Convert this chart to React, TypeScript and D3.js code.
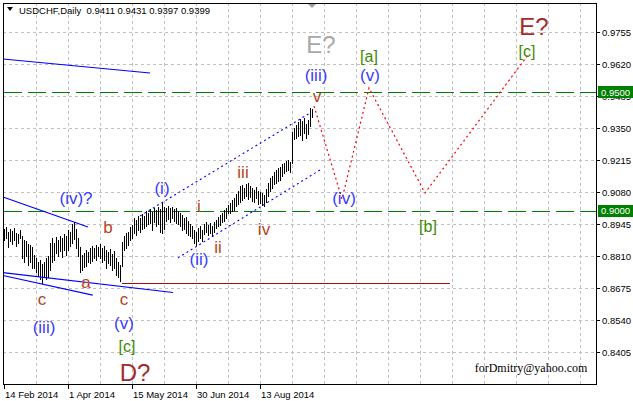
import * as d3 from 'd3';

// header of the MT4 window
const symbolName = 'USDCHF,Daily';
const lastOHLC = [0.9411, 0.9431, 0.9397, 0.9399];

// daily bars, 14 Feb 2014 onwards (high / low)
const highs = [
  0.8924, 0.8932, 0.8911, 0.8924, 0.8915, 0.8928, 0.8907, 0.8903, 0.8920, 0.8894,
  0.8878, 0.8873, 0.8861, 0.8856, 0.8848, 0.8814, 0.8802, 0.8785, 0.8793, 0.8776,
  0.8785, 0.8802, 0.8810, 0.8865, 0.8886, 0.8865, 0.8890, 0.8878, 0.8894, 0.8886,
  0.8903, 0.8894, 0.8920, 0.8911, 0.8945, 0.8953, 0.8924, 0.8886, 0.8848, 0.8814,
  0.8823, 0.8835, 0.8827, 0.8844, 0.8852, 0.8844, 0.8856, 0.8848, 0.8861, 0.8844,
  0.8852, 0.8835, 0.8827, 0.8840, 0.8818, 0.8831, 0.8802, 0.8785, 0.8772, 0.8869,
  0.8894, 0.8907, 0.8911, 0.8932, 0.8941, 0.8970, 0.8962, 0.8979, 0.8970, 0.8987,
  0.8979, 0.9000, 0.8991, 0.9008, 0.8996, 0.9013, 0.9004, 0.9017, 0.9008, 0.9038,
  0.9017, 0.9013, 0.9021, 0.9013, 0.9017, 0.9008, 0.9013, 0.9000, 0.8991, 0.8983,
  0.8970, 0.8975, 0.8958, 0.8945, 0.8937, 0.8920, 0.8911, 0.8928, 0.8937, 0.8920,
  0.8945, 0.8953, 0.8941, 0.8949, 0.8937, 0.8953, 0.8962, 0.8975, 0.8983, 0.8991,
  0.9004, 0.9013, 0.9025, 0.9034, 0.9046, 0.9055, 0.9072, 0.9084, 0.9105, 0.9110,
  0.9097, 0.9114, 0.9118, 0.9105, 0.9097, 0.9088, 0.9101, 0.9084, 0.9080, 0.9076,
  0.9067, 0.9093, 0.9118, 0.9139, 0.9148, 0.9164, 0.9173, 0.9181, 0.9185, 0.9198,
  0.9202, 0.9211, 0.9215, 0.9207, 0.9333, 0.9350, 0.9363, 0.9375, 0.9388, 0.9380,
  0.9392, 0.9367, 0.9384, 0.9434, 0.9431,
];
const lows = [
  0.8878, 0.8886, 0.8848, 0.8873, 0.8861, 0.8878, 0.8852, 0.8865, 0.8886, 0.8802,
  0.8785, 0.8810, 0.8772, 0.8785, 0.8759, 0.8759, 0.8743, 0.8726, 0.8713, 0.8696,
  0.8726, 0.8713, 0.8721, 0.8751, 0.8785, 0.8793, 0.8823, 0.8810, 0.8831, 0.8806,
  0.8835, 0.8814, 0.8835, 0.8852, 0.8865, 0.8882, 0.8844, 0.8810, 0.8743, 0.8751,
  0.8764, 0.8768, 0.8785, 0.8780, 0.8789, 0.8802, 0.8793, 0.8810, 0.8802, 0.8785,
  0.8793, 0.8759, 0.8780, 0.8772, 0.8751, 0.8759, 0.8730, 0.8721, 0.8705, 0.8768,
  0.8835, 0.8844, 0.8856, 0.8878, 0.8886, 0.8907, 0.8899, 0.8920, 0.8911, 0.8924,
  0.8928, 0.8937, 0.8945, 0.8949, 0.8920, 0.8953, 0.8937, 0.8945, 0.8911, 0.8907,
  0.8924, 0.8958, 0.8966, 0.8953, 0.8970, 0.8958, 0.8949, 0.8945, 0.8937, 0.8920,
  0.8924, 0.8907, 0.8899, 0.8894, 0.8886, 0.8865, 0.8856, 0.8873, 0.8886, 0.8873,
  0.8903, 0.8911, 0.8899, 0.8907, 0.8894, 0.8911, 0.8928, 0.8937, 0.8941, 0.8953,
  0.8958, 0.8970, 0.8991, 0.8991, 0.9000, 0.9004, 0.9021, 0.9029, 0.9038, 0.9046,
  0.9055, 0.9063, 0.9050, 0.9059, 0.9042, 0.9038, 0.9055, 0.9029, 0.9034, 0.9025,
  0.9021, 0.9038, 0.9063, 0.9084, 0.9097, 0.9114, 0.9118, 0.9126, 0.9131, 0.9148,
  0.9160, 0.9169, 0.9173, 0.9164, 0.9202, 0.9304, 0.9308, 0.9316, 0.9320, 0.9299,
  0.9329, 0.9308, 0.9325, 0.9358, 0.9397,
];

const dateTickBars = [0, 32, 64, 96, 128];
const dateTickLabels = ['14 Feb 2014', '1 Apr 2014', '15 May 2014', '30 Jun 2014', '13 Aug 2014'];

const priceTicks = [0.9755, 0.962, 0.9485, 0.935, 0.9215, 0.908, 0.8945, 0.881, 0.8675, 0.854, 0.8405];
const levelPrices = [0.95, 0.9];

// trend lines, [bar, price] ends
const blueLines = [
  [[-0.5, 0.9641], [73, 0.9582]],
  [[-0.5, 0.9059], [42, 0.8932]],
  [[-0.5, 0.874], [84.5, 0.8656]],
  [[-0.5, 0.8728], [44.35, 0.8645]],
];
const channelLines = [
  [[68, 0.8979], [153, 0.9413]],
  [[87, 0.8802], [158, 0.9173]],
];
const supportLine = [[59, 0.8692], [223, 0.8692]];

// projected path
const forecastBars = [155, 169, 182.5, 210.5, 262];
const forecastPrices = [0.9443, 0.905, 0.9519, 0.9076, 0.9658];

// wave labels
const labelTexts = ['(iv)?', 'b', 'a', 'c', '(iii)', 'c', '(v)', '[c]', 'D?', '(i)', 'i', '(ii)', 'ii', 'iii', 'iv', '(iii)', 'v', 'E?', '(iv)', '[a]', '(v)', '[b]', 'E?', '[c]'];
const labelBars = [36, 52, 41, 19, 20, 60, 60, 61.5, 65.5, 79, 97.5, 97.5, 107, 119.5, 130, 156, 156.5, 158.5, 170, 182.5, 183, 212, 265, 261.5];
const labelPrices = [0.9029, 0.8907, 0.8675, 0.8603, 0.8485, 0.8603, 0.8502, 0.8405, 0.8283, 0.9072, 0.8996, 0.8772, 0.8823, 0.9139, 0.8899, 0.9548, 0.946, 0.9666, 0.9029, 0.9628, 0.9548, 0.8911, 0.9742, 0.965];
const labelDegrees = ['minor', 'minute', 'minute', 'minute', 'minor', 'minute', 'minor', 'intermediate', 'primary', 'minor', 'minute', 'minor', 'minute', 'minute', 'minute', 'minor', 'minute', 'alt', 'minor', 'intermediate', 'minor', 'intermediate', 'primary', 'intermediate'];

const degreeStyle: Record<string, { color: string; size: number }> = {
  minute: { color: '#b5451b', size: 17 },
  minor: { color: '#3a3aff', size: 17 },
  intermediate: { color: '#3d8b00', size: 16 },
  primary: { color: '#a52a2a', size: 24 },
  alt: { color: '#a8a8a8', size: 24 },
};

const W = 633;
const H = 401;
const left = 3;
const right = 596;
const top = 3;
const bottom = 384;
const smallFont = 'Liberation Sans, Arial, sans-serif';

export default function App() {
  const x = d3.scaleLinear().domain([0, 296]).range([4, 596]);
  const y = d3.scaleLinear().domain([0.827, 0.989]).range([384, 0]);
  const px = (v: number) => Math.round(v) + 0.5;

  const line = d3.line<number[]>().x(d => x(d[0])).y(d => y(d[1]));
  const forecast = forecastBars.map((b, i) => [b, forecastPrices[i]]);

  const vGrid = d3.range(16, 296, 16);

  return (
    <svg width={W} height={H} style={{ position: 'absolute', left: 0, top: 0, background: '#fff' }}>
      <rect x={0} y={0} width={W} height={H} fill="#fff" />

      {/* grid */}
      <g stroke="#c0c0c0" strokeDasharray="3,3" shapeRendering="crispEdges">
        {priceTicks.map(p => (
          <line key={p} x1={left} x2={right} y1={px(y(p))} y2={px(y(p))} />
        ))}
        {vGrid.map(b => (
          <line key={b} x1={px(x(b))} x2={px(x(b))} y1={top} y2={bottom} />
        ))}
      </g>

      {/* key levels */}
      <g stroke="#008000" strokeWidth={1} strokeDasharray="18,6" shapeRendering="crispEdges">
        {levelPrices.map(p => (
          <line key={p} x1={left + 1} x2={right} y1={px(y(p))} y2={px(y(p))} />
        ))}
      </g>

      {/* bars */}
      <g stroke="#000" strokeWidth={1} shapeRendering="crispEdges">
        {highs.map((h, i) => (
          <line key={i} x1={px(x(i))} x2={px(x(i))} y1={Math.round(y(h))} y2={Math.round(y(lows[i])) + 1} />
        ))}
      </g>

      {/* trend lines */}
      <g fill="none" stroke="#0000ff" strokeWidth={1.1}>
        {blueLines.map((l, i) => (
          <path key={i} d={line(l) ?? ''} />
        ))}
      </g>
      <g fill="none" stroke="#0000ff" strokeWidth={1.1} strokeDasharray="2,3">
        {channelLines.map((l, i) => (
          <path key={i} d={line(l) ?? ''} />
        ))}
      </g>
      <path d={line(supportLine) ?? ''} stroke="#a01010" strokeWidth={1} fill="none" shapeRendering="crispEdges" />
      <path d={line(forecast) ?? ''} stroke="#ff0000" strokeWidth={1.2} strokeDasharray="2,3" fill="none" />

      {/* wave labels */}
      <g fontFamily="Liberation Sans, Arial, sans-serif" textAnchor="middle">
        {labelTexts.map((t, i) => {
          const s = degreeStyle[labelDegrees[i]];
          return (
            <text key={i} x={x(labelBars[i])} y={y(labelPrices[i])} fill={s.color} fontSize={s.size}>
              {t}
            </text>
          );
        })}
      </g>

      <text x={531} y={372} fontFamily="Liberation Serif, Times New Roman, serif" fontSize={12} textAnchor="middle" fill="#000">
        forDmitry@yahoo.com
      </text>

      {/* frame */}
      <g stroke="#000" strokeWidth={1} shapeRendering="crispEdges" fill="none">
        <rect x={left + 0.5} y={top + 0.5} width={right - left} height={bottom - top} />
        {priceTicks.map(p => (
          <line key={p} x1={right} x2={right + 4} y1={px(y(p))} y2={px(y(p))} />
        ))}
        {dateTickBars.map(b => (
          <line key={b} x1={px(x(b))} x2={px(x(b))} y1={bottom} y2={bottom + 5} />
        ))}
      </g>

      {/* price axis */}
      <g fontFamily={smallFont} fontSize={9.5} fill="#000">
        {priceTicks.map(p => (
          <text key={p} x={602} y={y(p) + 3.5}>
            {p.toFixed(4)}
          </text>
        ))}
      </g>
      {levelPrices.map(p => (
        <g key={p}>
          <rect x={598} y={Math.round(y(p)) - 6} width={35} height={12} fill="#008000" />
          <text x={601} y={y(p) + 3.5} fontFamily={smallFont} fontSize={9.5} fill="#fff">
            {p.toFixed(4)}
          </text>
        </g>
      ))}

      {/* time axis */}
      <g fontFamily={smallFont} fontSize={9.5} fill="#000">
        {dateTickBars.map((b, i) => (
          <text key={b} x={x(b) + 1} y={398}>
            {dateTickLabels[i]}
          </text>
        ))}
      </g>

      {/* header */}
      <path d="M7,7 L13,7 L10,11 Z" fill="#000" />
      <text x={19} y={14} fontFamily={smallFont} fontSize={9.5} fill="#000" xmlSpace="preserve">
        {`${symbolName}  ${lastOHLC.map(v => v.toFixed(4)).join(' ')}`}
      </text>
      <path d={`M${x(154) - 4},4 L${x(154) + 4},4 L${x(154)},8 Z`} fill="#a0a0a0" />
    </svg>
  );
}
